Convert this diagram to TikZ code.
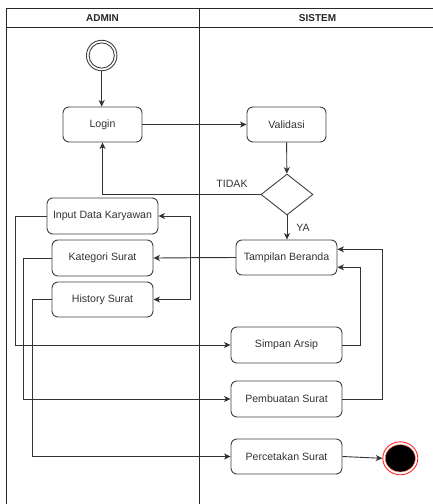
\documentclass[tikz,border=0pt]{standalone}
\usepackage{fontspec}
\setmainfont{Liberation Sans}
\usetikzlibrary{arrows.meta,shapes.geometric}
\begin{document}
\begin{tikzpicture}[x=1pt,y=-1pt,
  lane/.style={draw=black!85,line width=0.9pt},
  hdr/.style={font=\fontsize{10}{12}\selectfont\bfseries,text=black!85},
  act/.style={draw=black!75,line width=0.9pt,rounded corners=6pt,fill=white,
    font=\fontsize{10.6}{12}\selectfont,text=black!80,inner sep=0pt},
  lbl/.style={font=\fontsize{10.6}{12}\selectfont,text=black!80},
  flow/.style={draw=black!80,line width=0.9pt,
    -{Stealth[length=6.5pt,width=6pt,inset=1.8pt]}}]
\useasboundingbox (0,0) rectangle (433,504);

% swimlanes
\draw[lane] (433,8) -- (6,8) -- (6,504);
\draw[lane] (6,27) -- (433,27);
\draw[lane] (199,8) -- (199,504);
\node[hdr] (hadmin) at (102.5,18) {ADMIN};
\node[hdr] (hsistem) at (317.5,18) {SISTEM};

% start state
\node[circle,draw=black!75,line width=0.9pt,minimum size=30.5pt,inner sep=0pt] (start) at (101.7,55.5) {};
\draw[black!75,line width=0.9pt] (start.center) circle (12.6pt);

% activities
\node[act,minimum width=79pt,minimum height=35pt] (login) at (102.5,124.5) {Login};
\node[act,minimum width=79pt,minimum height=35pt] (valid) at (286.5,124.5) {Validasi};
\node[diamond,draw=black!75,line width=0.9pt,fill=white,minimum width=52pt,minimum height=41pt,inner sep=0pt] (dec) at (287,194.5) {};
\node[act,minimum width=111pt,minimum height=36pt] (input) at (102.5,216) {Input Data Karyawan};
\node[act,minimum width=101pt,minimum height=36pt] (kategori) at (102.5,258) {Kategori Surat};
\node[act,minimum width=101pt,minimum height=35pt] (history) at (102.5,299.5) {History Surat};
\node[act,minimum width=101pt,minimum height=35pt] (beranda) at (286.5,257.5) {Tampilan Beranda};
\node[act,minimum width=111pt,minimum height=36pt] (simpan) at (286.5,345) {Simpan Arsip};
\node[act,minimum width=111pt,minimum height=36pt] (buat) at (286.5,399) {Pembuatan Surat};
\node[act,minimum width=111pt,minimum height=35pt] (cetak) at (286.5,456.5) {Percetakan Surat};

% end state
\node[ellipse,draw=red!85,line width=0.9pt,minimum width=35pt,minimum height=33pt,inner sep=0pt] (end) at (400.3,458.3) {};
\filldraw[fill=black,draw=red!60,line width=0.5pt] (end.center) ellipse [x radius=15pt,y radius=13.6pt];

% routing guides
\coordinate (bus) at (190,257.5);
\coordinate (l1) at (15,0);
\coordinate (l2) at (23,0);
\coordinate (l3) at (32,0);
\coordinate (r1) at (360.5,0);
\coordinate (r2) at (382.7,0);
\coordinate (b1) at ([yshift=-9.8pt]beranda.east);
\coordinate (b2) at ([yshift=8.2pt]beranda.east);

% control flow
\draw[flow] (start.south) -- (start.south |- login.north);
\draw[flow] (login) -- (valid);
\draw[flow] (valid) -- (dec);
\draw[flow] (dec.west) -| (login.south);
\node[lbl] (tidak) at (232,184) {TIDAK};
\draw[flow] (dec.south) -- (dec.south |- beranda.north);
\node[lbl] (ya) at (303,228) {YA};

\draw[flow] (beranda.west) -- (kategori.east);
\draw[flow] (beranda.west) -- (bus) |- (input.east);
\draw[flow] (beranda.west) -- (bus) |- (history.east);

\draw[flow] (input.west) -- (input.west -| l1) -- (l1 |- simpan.west) -- (simpan.west);
\draw[flow] (kategori.west) -- (kategori.west -| l2) -- (l2 |- buat.west) -- (buat.west);
\draw[flow] (history.west) -- (history.west -| l3) -- (l3 |- cetak.west) -- (cetak.west);

\draw[flow] (simpan.east) -- (simpan.east -| r1) -- (r1 |- b1) -- (b1);
\draw[flow] (buat.east) -- (buat.east -| r2) -- (r2 |- b2) -- (b2);
\draw[flow] (cetak.east) -- (end.west);
\end{tikzpicture}
\end{document}
